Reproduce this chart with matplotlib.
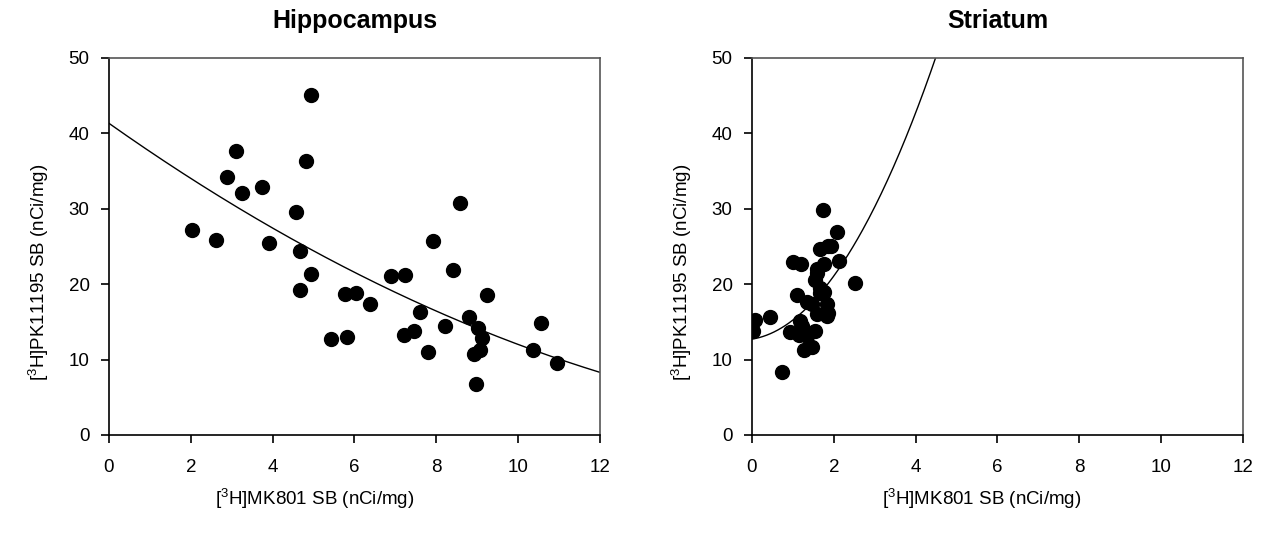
import numpy as np
import matplotlib
matplotlib.use('Agg')
import matplotlib.pyplot as plt

plt.rcParams['font.family'] = ['Liberation Sans', 'DejaVu Sans']
plt.rcParams['mathtext.fontset'] = 'custom'
plt.rcParams['mathtext.rm'] = 'Liberation Sans'
plt.rcParams['mathtext.it'] = 'Liberation Sans:italic'
plt.rcParams['mathtext.bf'] = 'Liberation Sans:bold'

# Hippocampus data
hip_x = [2.02, 2.61, 2.89, 3.10, 3.26, 3.74, 3.92, 4.57, 4.67, 4.67, 4.82, 4.93, 4.95,
         5.43, 5.76, 5.82, 6.04, 6.39, 6.90, 7.23, 7.20, 7.45, 7.60, 7.81, 7.92, 8.22,
         8.42, 8.57, 8.80, 9.02, 9.12, 9.08, 8.93, 8.98, 9.25, 10.37, 10.57, 10.94]
hip_y = [27.2, 25.9, 34.2, 37.6, 32.1, 32.9, 25.4, 29.6, 24.4, 19.2, 36.3, 21.3, 45.0,
         12.7, 18.7, 13.0, 18.8, 17.4, 21.1, 21.2, 13.2, 13.8, 16.3, 11.0, 25.7, 14.4,
         21.8, 30.7, 15.7, 14.2, 12.9, 11.3, 10.7, 6.8, 18.5, 11.2, 14.8, 9.6]

# Striatum data
str_x = [0.02, 0.07, 0.44, 0.73, 0.93, 1.01, 1.19, 1.09, 1.14, 1.18, 1.26, 1.34, 1.22,
         1.34, 1.46, 1.59, 1.67, 1.83, 1.87, 1.46, 1.54, 1.59, 1.54, 1.67, 1.75, 2.12,
         1.67, 1.85, 1.93, 2.09, 1.73, 2.52, 1.83, 1.75, 1.60]
str_y = [13.8, 15.3, 15.6, 8.4, 13.6, 22.9, 22.7, 18.6, 13.3, 15.1, 11.3, 13.1, 14.4,
         17.6, 17.4, 16.0, 18.8, 17.3, 16.2, 11.6, 13.8, 21.5, 20.6, 19.5, 22.6, 23.0,
         24.6, 25.1, 25.0, 26.9, 29.8, 20.1, 15.8, 19.0, 22.0]

# fitted curves, polynomial coefficients (c0, c1, c2)
hip_fit = [41.3, -3.83, 0.090]
str_fit = [12.7, 0.873, 1.656]

xlab = r'[$^{3}$H]MK801 SB (nCi/mg)'
ylab = r'[$^{3}$H]PK11195 SB (nCi/mg)'

fig = plt.figure(figsize=(12.67, 5.44), dpi=100)
ax1 = fig.add_axes([0.0860, 0.2004, 0.3875, 0.6936])
ax2 = fig.add_axes([0.5935, 0.2004, 0.3875, 0.6936])

panels = [(ax1, 'Hippocampus', hip_x, hip_y, hip_fit, 0.42),
          (ax2, 'Striatum', str_x, str_y, str_fit, 0.468)]

for ax, title, xs, ys, fit, xl_pos in panels:
    xx = np.linspace(0, 12, 400)
    yy = fit[0] + fit[1] * xx + fit[2] * xx ** 2
    ax.plot(xx, yy, color='black', lw=1.0)
    ax.plot(xs, ys, 'o', color='black', ms=10, mec='black')
    ax.set_xlim(0, 12)
    ax.set_ylim(0, 50)
    ax.set_xticks(np.arange(0, 13, 2))
    ax.set_yticks(np.arange(0, 51, 10))
    ax.tick_params(direction='out', length=6, width=1.2, labelsize=13.5)
    ax.tick_params(axis='x', pad=11)
    ax.tick_params(axis='y', pad=8)
    for s in ['left', 'bottom']:
        ax.spines[s].set_color('black')
        ax.spines[s].set_linewidth(1.2)
    for s in ['top', 'right']:
        ax.spines[s].set_color('#555555')
        ax.spines[s].set_linewidth(1.2)
    ax.set_title(title, fontsize=18, fontweight='bold', pad=21)
    ax.set_xlabel(xlab, fontsize=13.5)
    ax.set_ylabel(ylab, fontsize=13.5)
    ax.xaxis.set_label_coords(xl_pos, -0.138)
    ax.yaxis.set_label_coords(-0.118, 0.43)

fig.savefig('out.png', dpi=100)
